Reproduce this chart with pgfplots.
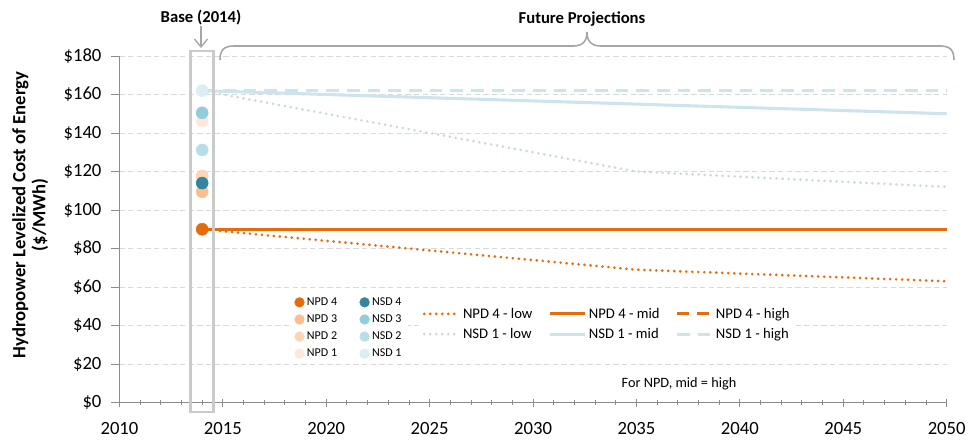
\documentclass[border=0pt]{standalone}
\usepackage{pgfplots}
\pgfplotsset{compat=1.18}
\usepackage{fontspec}
\setmainfont{Carlito}
\usetikzlibrary{arrows.meta}
\definecolor{npdfour}{HTML}{E46C0A}
\definecolor{npdthree}{HTML}{FABF8F}
\definecolor{npdtwo}{HTML}{FCD5B4}
\definecolor{npdone}{HTML}{FDE9D9}
\definecolor{nsdfour}{HTML}{31859C}
\definecolor{nsdthree}{HTML}{92CDDC}
\definecolor{nsdtwo}{HTML}{B7DEE8}
\definecolor{nsdone}{HTML}{DAEEF3}
\definecolor{nsdline}{HTML}{CDE4EE}
\definecolor{nsddot}{HTML}{C9D9E0}
\definecolor{gridgray}{HTML}{D9D9D9}
\definecolor{axisgray}{HTML}{8C8C8C}
\definecolor{boxgray}{HTML}{CACACA}
\definecolor{annogray}{HTML}{A6A6A6}
\pgfplotsset{
  common/.style={
    scale only axis, width=620.4pt, height=259.9pt,
    xmin=2010, xmax=2050, ymin=0, ymax=180,
    clip=false,
  },
}
\begin{document}
\begin{tikzpicture}
\begin{axis}[common,
  axis lines*=left,
  axis line style={axisgray, line width=0.8pt},
  xtick={2010,2015,...,2050},
  minor x tick num=4,
  x tick label style={/pgf/number format/1000 sep={}, yshift=-8.5pt},
  xtick align=center,
  ytick={0,20,...,180},
  ytick align=outside,
  y tick label style={xshift=-4pt},
  major tick length=6pt,
  minor tick length=3.5pt,
  tick style={axisgray, line width=0.7pt},
  yticklabel={\$\pgfmathprintnumber{\tick}},
  /pgf/number format/assume math mode=true,
  ticklabel style={font=\fontsize{14}{16}\selectfont, text=black},
  ymajorgrids,
  grid style={gridgray, dash pattern=on 4pt off 2.5pt, line width=0.7pt},
  ylabel={Hydropower Levelized Cost of Energy\\(\$/MWh)},
  every axis y label/.style={at={(rel axis cs:-0.108,0.541)}, rotate=90, anchor=center,
    align=center, font=\bfseries\fontsize{14}{15}\selectfont},
  legend columns=3,
  legend cell align=left,
  legend image code/.code={\draw[#1] (0pt,0pt) -- (26pt,0pt);},
  legend style={at={(rel axis cs:0.590,0.2266)}, anchor=center, draw=none, fill=white,
    font=\fontsize{11}{13}\selectfont, row sep=2pt,
    /tikz/every even column/.append style={column sep=10pt}},
]
% projection lines
\addplot[npdfour, line width=2.2pt, line cap=round, dash pattern=on 0pt off 4.5pt]
  coordinates {(2014,90) (2035,69) (2050,63)};
\addlegendentry{NPD 4 - low}
\addplot[npdfour, line width=2.3pt]
  coordinates {(2014,90) (2050,90)};
\addlegendentry{NPD 4 - mid}
\addplot[npdfour, line width=2.3pt, dash pattern=on 9pt off 6pt]
  coordinates {(2014,90) (2050,90)};
\addlegendentry{NPD 4 - high}
\addplot[nsddot, line width=2.2pt, line cap=round, dash pattern=on 0pt off 4.5pt]
  coordinates {(2014,162) (2035,120) (2050,112)};
\addlegendentry{NSD 1 - low}
\addplot[nsdline, line width=2.3pt]
  coordinates {(2014,162) (2050,150)};
\addlegendentry{NSD 1 - mid}
\addplot[nsdline, line width=2.3pt, dash pattern=on 9.5pt off 6pt]
  coordinates {(2014,162) (2050,162)};
\addlegendentry{NSD 1 - high}
% base 2014 dots
\addplot[only marks, mark=*, mark size=4.5pt, npdone, forget plot] coordinates {(2014,146.2)};
\addplot[only marks, mark=*, mark size=4.5pt, npdtwo, forget plot] coordinates {(2014,117.7)};
\addplot[only marks, mark=*, mark size=4.5pt, npdthree, forget plot] coordinates {(2014,109.5)};
\addplot[only marks, mark=*, mark size=4.5pt, nsdone, forget plot] coordinates {(2014,162)};
\addplot[only marks, mark=*, mark size=4.5pt, nsdtwo, forget plot] coordinates {(2014,131.2)};
\addplot[only marks, mark=*, mark size=4.5pt, nsdthree, forget plot] coordinates {(2014,150.5)};
\addplot[only marks, mark=*, mark size=4.5pt, nsdfour, forget plot] coordinates {(2014,114)};
\addplot[only marks, mark=*, mark size=4.5pt, npdfour, forget plot] coordinates {(2014,90)};
\end{axis}
\begin{axis}[common, hide axis,
  legend columns=2,
  legend cell align=left,
  legend style={at={(rel axis cs:0.278,0.215)}, anchor=center, draw=none, fill=white,
    font=\fontsize{9}{10}\selectfont, row sep=1.5pt,
    /tikz/every even column/.append style={column sep=15pt}},
]
\addlegendimage{only marks, mark=*, mark size=3.6pt, npdfour}
\addlegendentry{NPD 4}
\addlegendimage{only marks, mark=*, mark size=3.6pt, nsdfour}
\addlegendentry{NSD 4}
\addlegendimage{only marks, mark=*, mark size=3.6pt, npdthree}
\addlegendentry{NPD 3}
\addlegendimage{only marks, mark=*, mark size=3.6pt, nsdthree}
\addlegendentry{NSD 3}
\addlegendimage{only marks, mark=*, mark size=3.6pt, npdtwo}
\addlegendentry{NPD 2}
\addlegendimage{only marks, mark=*, mark size=3.6pt, nsdtwo}
\addlegendentry{NSD 2}
\addlegendimage{only marks, mark=*, mark size=3.6pt, npdone}
\addlegendentry{NPD 1}
\addlegendimage{only marks, mark=*, mark size=3.6pt, nsdone}
\addlegendentry{NSD 1}
\end{axis}
% annotations in pixel units of the reference
\begin{scope}[x=0.75pt, y=-0.75pt, shift={(-89.6pt,301.9pt)}]
  \draw[boxgray, line width=2pt] (190.5,51) rectangle (213.5,412);
  \draw[annogray, line width=1pt, -{Straight Barb[length=6pt,width=10pt]}] (201,26) -- (201,48);
  \node[font=\bfseries\fontsize{12.5}{14}\selectfont] at (201,18) {Base (2014)};
  \node[font=\bfseries\fontsize{12.5}{14}\selectfont] at (582,19) {Future Projections};
  \draw[annogray, line width=1.2pt]
    (220,60) .. controls (220,50) and (224,46) .. (234,46) -- (573,46)
    .. controls (582,46) and (587,42) .. (587,32)
    .. controls (587,42) and (592,46) .. (601,46) -- (940,46)
    .. controls (950,46) and (954,50) .. (954,60);
  \node[font=\fontsize{10.7}{12}\selectfont] at (679,384) {For NPD, mid = high};
\end{scope}
\pgfresetboundingbox
\path (-89.6pt,-27.4pt) rectangle (636.4pt,301.9pt);
\end{tikzpicture}
\end{document}
